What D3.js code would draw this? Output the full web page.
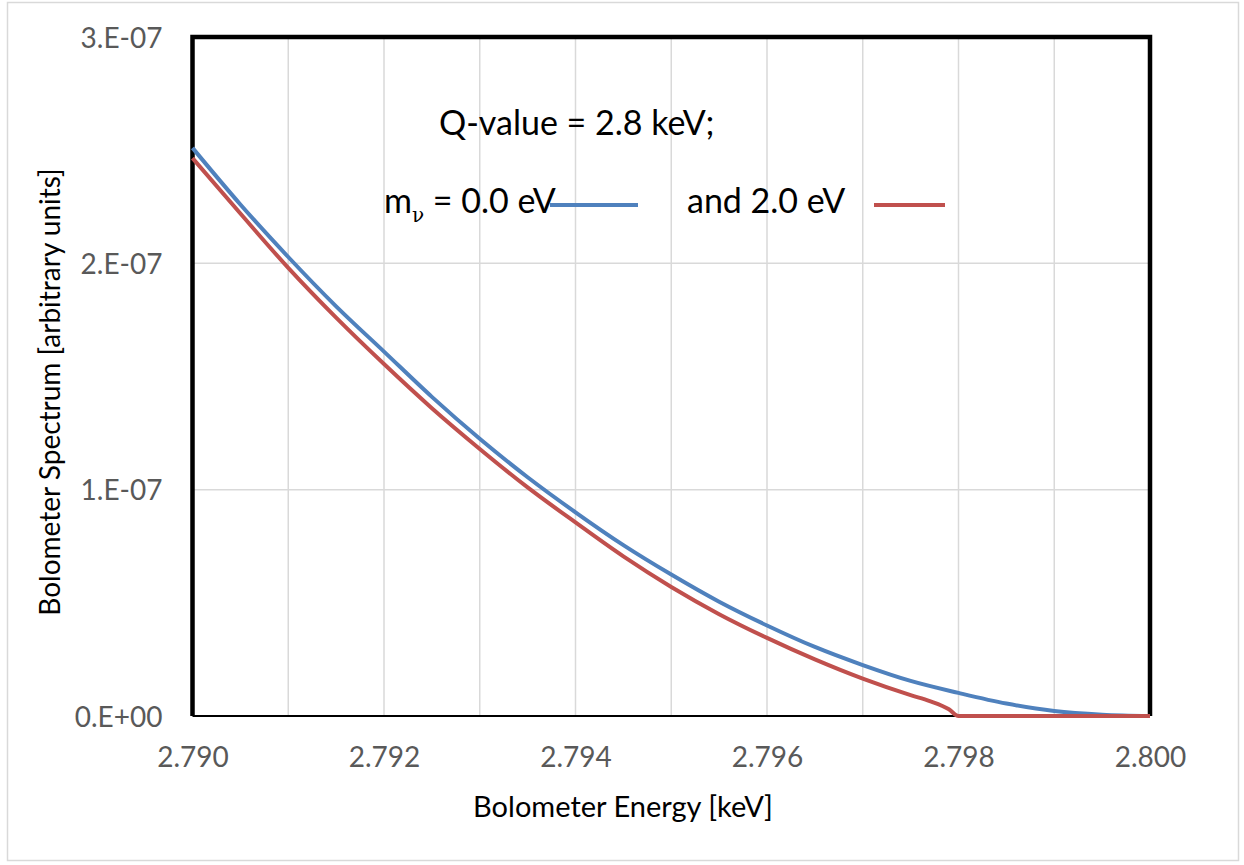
<!DOCTYPE html>
<html>
<head>
<meta charset="utf-8">
<script src="https://cdn.jsdelivr.net/npm/d3@7"></script>
<style>
  body { margin: 0; background: #fff; }
  text { font-family: Lato, "Open Sans", sans-serif; }
</style>
</head>
<body>
<div id="chart"></div>
<script>
// energy grid [keV]
var energy = [2.7900, 2.7905, 2.7910, 2.7915, 2.7920, 2.7925, 2.7930, 2.7935, 2.7940, 2.7945,
              2.7950, 2.7955, 2.7960, 2.7965, 2.7970, 2.7975, 2.7980, 2.7985, 2.7990, 2.7995, 2.8000];
// m_nu = 0.0 eV (units of 1e-7)
var specZero = [2.510, 2.260, 2.028, 1.810, 1.610, 1.410, 1.225, 1.055, 0.900, 0.755,
                0.625, 0.505, 0.400, 0.305, 0.225, 0.155, 0.102, 0.055, 0.022, 0.006, 0.000];
// m_nu = 2.0 eV
var energyMass = [2.7900, 2.7905, 2.7910, 2.7915, 2.7920, 2.7925, 2.7930, 2.7935, 2.7940, 2.7945,
                  2.7950, 2.7955, 2.7960, 2.7965, 2.7970, 2.7975, 2.7977, 2.7979, 2.7980, 2.7990, 2.8000];
var specMass = [2.465, 2.220, 1.980, 1.760, 1.555, 1.360, 1.180, 1.010, 0.855, 0.705,
                0.570, 0.450, 0.345, 0.250, 0.165, 0.092, 0.066, 0.030, 0.000, 0.000, 0.000];

var xTicks = [2.790, 2.792, 2.794, 2.796, 2.798, 2.800];
var xGrid = [2.791, 2.792, 2.793, 2.794, 2.795, 2.796, 2.797, 2.798, 2.799];
var yTicks = [0, 1e-7, 2e-7, 3e-7];
var yTickLabels = ["0.E+00", "1.E-07", "2.E-07", "3.E-07"];

var svgWidth = 1244;
var svgHeight = 865;

// plot frame
var margin = { top: 37, right: 94, bottom: 149, left: 192.5 };
var width = svgWidth - margin.left - margin.right;
var height = svgHeight - margin.top - margin.bottom;

var svg = d3.select("#chart")
  .append("svg")
  .attr("width", svgWidth)
  .attr("height", svgHeight);

// outer chart border
svg.append("rect")
  .attr("x", 7.5).attr("y", 2.5)
  .attr("width", 1231).attr("height", 858)
  .attr("fill", "#fff")
  .attr("stroke", "#d9d9d9")
  .attr("stroke-width", 1.5);

var g = svg.append("g")
  .attr("transform", `translate(${margin.left}, ${margin.top})`);

var x = d3.scaleLinear().domain([2.790, 2.800]).range([0, width]);
var y = d3.scaleLinear().domain([0, 3e-7]).range([height, 0]);

// gridlines
g.selectAll(".vgrid")
  .data(xGrid)
  .enter()
  .append("line")
  .attr("x1", d => x(d)).attr("x2", d => x(d))
  .attr("y1", 0).attr("y2", height)
  .attr("stroke", "#d9d9d9")
  .attr("stroke-width", 1.5);

g.selectAll(".hgrid")
  .data([1e-7, 2e-7])
  .enter()
  .append("line")
  .attr("x1", 0).attr("x2", width)
  .attr("y1", d => y(d)).attr("y2", d => y(d))
  .attr("stroke", "#d9d9d9")
  .attr("stroke-width", 1.5);

// axes (labels only)
var xAxis = g.append("g")
  .attr("transform", `translate(0, ${height})`)
  .call(d3.axisBottom(x).tickValues(xTicks).tickSize(0).tickPadding(0).tickFormat(d3.format(".3f")));
xAxis.select(".domain").remove();
xAxis.selectAll("text")
  .attr("y", 51)
  .attr("dy", null)
  .attr("font-size", 28)
  .attr("font-family", "Lato, sans-serif")
  .attr("fill", "#595959");

var yAxis = g.append("g")
  .call(d3.axisLeft(y).tickValues(yTicks).tickSize(0).tickPadding(30)
    .tickFormat((d, i) => yTickLabels[i]));
yAxis.select(".domain").remove();
yAxis.selectAll("text")
  .attr("dy", "0.36em")
  .attr("font-size", 28)
  .attr("font-family", "Lato, sans-serif")
  .attr("fill", "#595959");

// frame
g.append("path")
  .attr("d", `M0,${height} V0 H${width} V${height}`)
  .attr("fill", "none")
  .attr("stroke", "#000")
  .attr("stroke-width", 4.5);
g.append("line")
  .attr("x1", 0).attr("x2", width)
  .attr("y1", height).attr("y2", height)
  .attr("stroke", "#000")
  .attr("stroke-width", 2);

// curves
var line = d3.line()
  .x(d => x(d[0]))
  .y(d => y(d[1] * 1e-7))
  .curve(d3.curveMonotoneX);

g.append("path")
  .datum(d3.zip(energy, specZero))
  .attr("d", line)
  .attr("fill", "none")
  .attr("stroke", "#4f81bd")
  .attr("stroke-width", 4);

g.append("path")
  .datum(d3.zip(energyMass, specMass))
  .attr("d", line)
  .attr("fill", "none")
  .attr("stroke", "#c0504d")
  .attr("stroke-width", 4);

// annotation / legend
svg.append("text")
  .attr("x", 439).attr("y", 135)
  .attr("font-size", 34)
  .attr("fill", "#000")
  .text("Q-value = 2.8 keV;");

var mText = svg.append("text")
  .attr("x", 384).attr("y", 213)
  .attr("font-size", 34)
  .attr("fill", "#000");
mText.append("tspan").text("m");
mText.append("tspan")
  .attr("font-family", "'DejaVu Serif', serif")
  .attr("font-size", 20)
  .attr("dy", 9)
  .text("ν");
mText.append("tspan").attr("dy", -9).text(" = 0.0 eV");

svg.append("line")
  .attr("x1", 550).attr("x2", 638)
  .attr("y1", 205).attr("y2", 205)
  .attr("stroke", "#4f81bd")
  .attr("stroke-width", 4);

svg.append("text")
  .attr("x", 687).attr("y", 213)
  .attr("font-size", 34)
  .attr("fill", "#000")
  .text("and 2.0 eV");

svg.append("line")
  .attr("x1", 874).attr("x2", 945)
  .attr("y1", 205).attr("y2", 205)
  .attr("stroke", "#c0504d")
  .attr("stroke-width", 4);

// axis titles
svg.append("text")
  .attr("x", 623).attr("y", 817)
  .attr("text-anchor", "middle")
  .attr("font-size", 29)
  .attr("fill", "#000")
  .text("Bolometer Energy [keV]");

svg.append("text")
  .attr("transform", "translate(60, 392) rotate(-90)")
  .attr("text-anchor", "middle")
  .attr("font-size", 28)
  .attr("fill", "#000")
  .text("Bolometer Spectrum [arbitrary units]");
</script>
</body>
</html>
